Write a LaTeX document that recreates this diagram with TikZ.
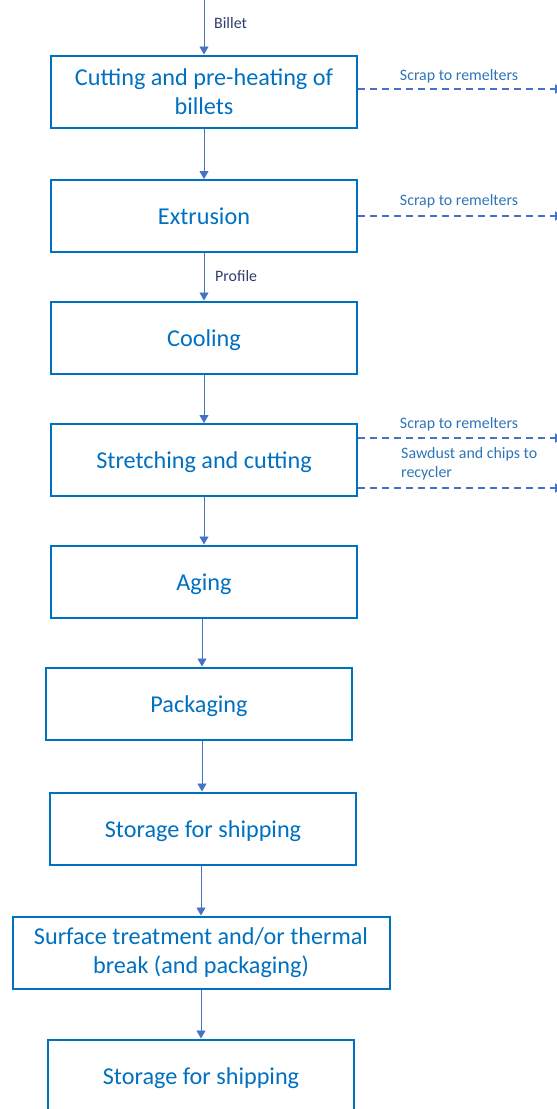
\documentclass[tikz,border=0pt]{standalone}
\usepackage{fontspec}
\setmainfont{Carlito}
\usetikzlibrary{arrows.meta}
\definecolor{boxblue}{HTML}{0070C0}
\definecolor{arrblue}{HTML}{4472C4}
\definecolor{navyc}{HTML}{2F3C6E}
\definecolor{lblblue}{HTML}{2E75B6}
\begin{document}
\begin{tikzpicture}[x=1pt,y=-1pt,
 proc/.style={draw=boxblue, line width=2pt, minimum width=306pt, minimum height=72pt, text=boxblue, font=\fontsize{24.2}{29.5}\selectfont, align=center, inner sep=0pt},
 oneline/.style={text height=17pt, text depth=0pt},
 flow/.style={draw=arrblue, line width=0.9pt, -{Triangle[width=9pt,length=8pt]}},
 scrap/.style={draw=arrblue, line width=1.8pt, dash pattern=on 7pt off 5pt, -{Triangle[width=9pt,length=8pt]}},
 small/.style={font=\fontsize{15.9}{18.5}\selectfont, inner sep=0pt},
]
\useasboundingbox (0,0) rectangle (557,1109);
\clip (0,0) rectangle (557,1109);
\node[proc] (cut) at (204,91.5) {Cutting and pre-heating of\\billets};
\node[proc, oneline] (ext) at (204,216) {Extrusion};
\node[proc, oneline] (cool) at (204,337.5) {Cooling};
\node[proc, oneline] (str) at (204,460) {Stretching and cutting};
\node[proc, oneline] (age) at (204,581.5) {Aging};
\node[proc, oneline] (pack) at (199,703.5) {Packaging};
\node[proc, oneline] (stor1) at (203,828.5) {Storage for shipping};
\node[proc, minimum width=377pt] (surf) at (201,952.5) {Surface treatment and/or thermal\\break (and packaging)};
\node[proc, oneline] (stor2) at (201,1075.5) {Storage for shipping};
% flow arrows
\coordinate (in) at (204,0);
\draw[flow] (in) -- (cut);
\draw[flow] (cut) -- (ext);
\draw[flow] (ext) -- (cool);
\draw[flow] (cool) -- (str);
\draw[flow] (str) -- (age);
\draw[flow] (age.south -| 202,0) -- (pack.north -| 202,0);
\draw[flow] (pack.south -| 202,0) -- (stor1.north -| 202,0);
\draw[flow] (stor1.south -| 201,0) -- (surf.north -| 201,0);
\draw[flow] (surf) -- (stor2);
\node[small, text=navyc, anchor=west] (lbillet) at (214,23) {Billet};
\node[small, text=navyc, anchor=west] (lprofile) at (215,276) {Profile};
% scrap lines
\coordinate (r1) at (563,89);
\coordinate (r2) at (563,216);
\coordinate (r3) at (563,438);
\coordinate (r4) at (563,488);
\draw[scrap] (cut.east |- r1) -- (r1);
\draw[scrap] (ext.east |- r2) -- (r2);
\draw[scrap] (str.east |- r3) -- (r3);
\draw[scrap] (str.east |- r4) -- (r4);
\node[small, text=lblblue] (s1) at (459,76) {Scrap to remelters};
\node[small, text=lblblue] (s2) at (459,201) {Scrap to remelters};
\node[small, text=lblblue] (s3) at (459,424) {Scrap to remelters};
\node[small, text=lblblue, align=left, anchor=west] (s4) at (401,464) {Sawdust and chips to\\recycler};
\end{tikzpicture}
\end{document}
